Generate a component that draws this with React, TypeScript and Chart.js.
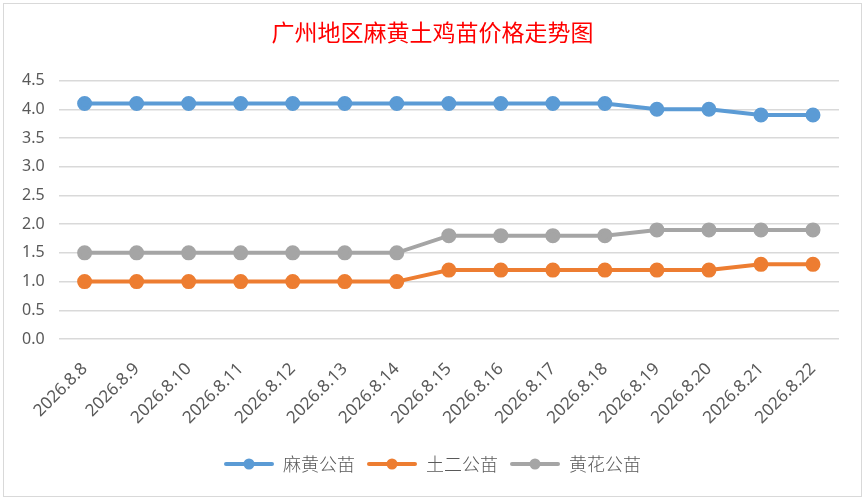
import React, { useEffect, useRef } from "react";
import { Chart, registerables } from "chart.js";

Chart.register(...registerables);

const categories = [
  "2026.8.8", "2026.8.9", "2026.8.10", "2026.8.11", "2026.8.12",
  "2026.8.13", "2026.8.14", "2026.8.15", "2026.8.16", "2026.8.17",
  "2026.8.18", "2026.8.19", "2026.8.20", "2026.8.21", "2026.8.22",
];
const mahuang = [4.1, 4.1, 4.1, 4.1, 4.1, 4.1, 4.1, 4.1, 4.1, 4.1, 4.1, 4.0, 4.0, 3.9, 3.9];
const tuer = [1.0, 1.0, 1.0, 1.0, 1.0, 1.0, 1.0, 1.2, 1.2, 1.2, 1.2, 1.2, 1.2, 1.3, 1.3];
const huanghua = [1.5, 1.5, 1.5, 1.5, 1.5, 1.5, 1.5, 1.8, 1.8, 1.8, 1.8, 1.9, 1.9, 1.9, 1.9];
const seriesNames = ["麻黄公苗", "土二公苗", "黄花公苗"];
const colors = ["#5B9BD5", "#ED7D31", "#A5A5A5"];
const title = "广州地区麻黄土鸡苗价格走势图";

function legendIcon(color: string): HTMLCanvasElement {
  const c = document.createElement("canvas");
  c.width = 50;
  c.height = 14;
  const ctx = c.getContext("2d")!;
  ctx.strokeStyle = color;
  ctx.lineWidth = 4;
  ctx.lineCap = "round";
  ctx.beginPath();
  ctx.moveTo(2, 7);
  ctx.lineTo(48, 7);
  ctx.stroke();
  ctx.fillStyle = color;
  ctx.beginPath();
  ctx.arc(25, 7, 5.5, 0, Math.PI * 2);
  ctx.fill();
  return c;
}

export default function App() {
  const ref = useRef<HTMLCanvasElement | null>(null);
  useEffect(() => {
    document.body.style.margin = "0";
    const icons = colors.map(legendIcon);
    const data = [mahuang, tuer, huanghua];
    const chart = new Chart(ref.current!, {
      type: "line",
      data: {
        labels: categories,
        datasets: seriesNames.map((n, i) => ({
          label: n,
          data: data[i],
          borderColor: colors[i],
          backgroundColor: colors[i],
          pointBackgroundColor: colors[i],
          pointBorderColor: colors[i],
          borderWidth: 4,
          pointRadius: 5.5,
          pointHoverRadius: 5.5,
          tension: 0,
          yAxisID: "y",
        })),
      },
      options: {
        animation: false,
        responsive: true,
        maintainAspectRatio: false,
        layout: { padding: { left: 13, right: 13, top: 0, bottom: 13 } },
        plugins: {
          title: {
            display: true,
            text: title,
            color: "#FF0000",
            font: { family: "'Noto Sans CJK SC'", size: 23, weight: "normal" },
            padding: { top: 14, bottom: 35 },
          },
          legend: {
            position: "bottom",
            labels: {
              usePointStyle: true,
              pointStyleWidth: 50,
              padding: 12,
              color: "#595959",
              font: { family: "'Noto Sans CJK SC'", size: 18, weight: "300" },
              generateLabels: (ch: any) =>
                ch.data.datasets.map((ds: any, i: number) => ({
                  text: ds.label,
                  fillStyle: colors[i],
                  strokeStyle: colors[i],
                  fontColor: "#595959",
                  pointStyle: icons[i],
                  datasetIndex: i,
                  hidden: false,
                  lineWidth: 0,
                })),
            },
          },
          tooltip: { enabled: false },
        },
        scales: {
          x: {
            offset: true,
            grid: { display: false },
            border: { display: false },
            afterFit: (s: any) => {
              s.height += 3;
            },
            ticks: {
              color: "#595959",
              font: { family: "'Noto Sans'", size: 17 },
              minRotation: 45,
              maxRotation: 45,
              padding: 12,
            },
          },
          y: {
            min: 0,
            max: 4.5,
            grid: { color: "#D9D9D9", lineWidth: 1.5, drawTicks: false },
            border: { display: false },
            afterFit: (s: any) => {
              s.width -= 9;
            },
            ticks: {
              stepSize: 0.5,
              color: "#595959",
              font: { family: "'Noto Sans'", size: 16 },
              padding: 14,
              callback: (v: any) => Number(v).toFixed(1),
            },
          },
          yRight: {
            position: "right",
            display: true,
            min: 0,
            max: 4.5,
            grid: { display: false },
            border: { display: false },
            ticks: { display: false },
            afterFit: (s: any) => {
              s.width = 9;
            },
          },
        },
      },
    });
    return () => chart.destroy();
  }, []);
  return (
    <div style={{ position: "relative", width: 867, height: 502, background: "#fff", overflow: "hidden" }}>
      <div
        style={{
          position: "absolute",
          left: 3,
          top: 3,
          width: 857,
          height: 492,
          border: "1px solid #D9D9D9",
          background: "#fff",
        }}
      >
        <canvas ref={ref} />
      </div>
    </div>
  );
}
